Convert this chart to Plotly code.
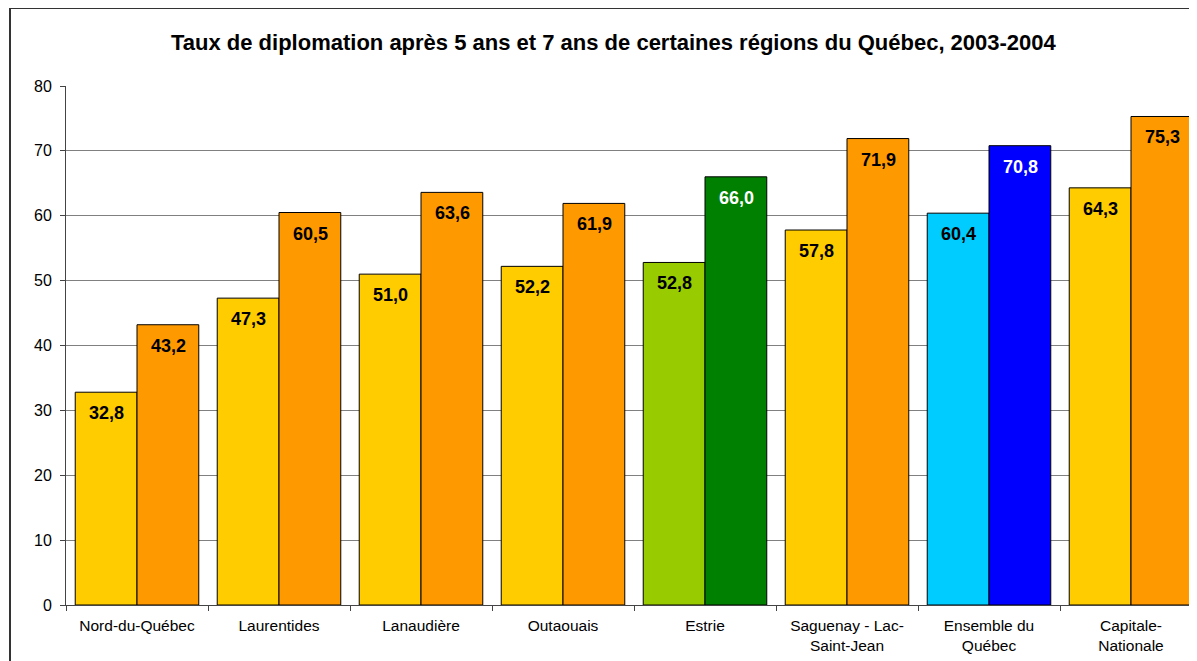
import plotly.graph_objects as go

categories = ["Nord-du-Québec", "Laurentides", "Lanaudière", "Outaouais", "Estrie",
              "Saguenay - Lac-<br>Saint-Jean", "Ensemble du<br>Québec", "Capitale-<br>Nationale"]
taux_5ans = [32.8, 47.3, 51.0, 52.2, 52.8, 57.8, 60.4, 64.3]
taux_7ans = [43.2, 60.5, 63.6, 61.9, 66.0, 71.9, 70.8, 75.3]
y_ticks = [0, 10, 20, 30, 40, 50, 60, 70, 80]

colors_5 = ["#FFCC00", "#FFCC00", "#FFCC00", "#FFCC00", "#99CC00", "#FFCC00", "#00CCFF", "#FFCC00"]
colors_7 = ["#FF9900", "#FF9900", "#FF9900", "#FF9900", "#008000", "#FF9900", "#0000FF", "#FF9900"]
text_col_5 = ["black"] * 8
text_col_7 = ["black", "black", "black", "black", "white", "black", "white", "black"]

def fmt(v):
    return f"{v:.1f}".replace(".", ",")

fig = go.Figure()
fig.add_trace(go.Bar(x=categories, y=taux_5ans, name="5 ans",
                     marker=dict(color=colors_5, line=dict(color="black", width=1))))
fig.add_trace(go.Bar(x=categories, y=taux_7ans, name="7 ans",
                     marker=dict(color=colors_7, line=dict(color="black", width=1))))

LABEL_FONT = dict(family="Arial", size=18, weight="bold")
annotations = []
for cat, v, c in zip(categories, taux_5ans, text_col_5):
    annotations.append(dict(x=cat, y=v, text=fmt(v), showarrow=False, xref="x", yref="y",
                            yanchor="top", xshift=-31, yshift=-9,
                            font=dict(LABEL_FONT, color=c)))
for cat, v, c in zip(categories, taux_7ans, text_col_7):
    annotations.append(dict(x=cat, y=v, text=fmt(v), showarrow=False, xref="x", yref="y",
                            yanchor="top", xshift=31, yshift=-9,
                            font=dict(LABEL_FONT, color=c)))

# page body has 8px margin -> figure coords = screen coords - 8
OFF = 8
W, H = 1197 - OFF, 661 - OFF
ml, mr, mt, mb = 66 - OFF, 0, 86 - OFF, H - (605 - OFF)
pw = W - ml - mr
ph = H - mt - mb

def px_x(p):
    return (p - OFF - ml) / pw

def px_y(p):
    return 1 - (p - OFF - mt) / ph

annotations.append(dict(x=px_x(614), y=px_y(43), xref="paper", yref="paper",
                        text="<b>Taux de diplomation après 5 ans et 7 ans de certaines régions du Québec, 2003-2004</b>",
                        showarrow=False, xanchor="center", yanchor="middle",
                        font=dict(family="Arial", size=22, color="black")))

shapes = [dict(type="rect", xref="paper", yref="paper",
               x0=px_x(10), x1=px_x(1230), y0=px_y(700), y1=px_y(8),
               line=dict(color="#333333", width=2), fillcolor="rgba(0,0,0,0)", layer="below")]

fig.update_layout(
    width=W, height=H,
    margin=dict(l=ml, r=mr, t=mt, b=mb, autoexpand=False),
    paper_bgcolor="white", plot_bgcolor="white",
    barmode="group", bargap=0.13, bargroupgap=0,
    showlegend=False,
    annotations=annotations,
    shapes=shapes,
    font=dict(family="Arial", size=15, color="black"),
)
fig.update_yaxes(range=[0, 80], tickvals=y_ticks, showgrid=True, gridcolor="#808080", gridwidth=1,
                 showline=True, linecolor="#444444", linewidth=1, ticks="outside", ticklen=5,
                 tickcolor="#444444", tickfont=dict(size=16), ticklabelstandoff=5, zeroline=False)
fig.update_xaxes(range=[-0.5, -0.5 + pw / 142], showline=True, linecolor="#444444", linewidth=1,
                 ticks="outside", tickson="boundaries", ticklen=5, tickcolor="#444444",
                 tickfont=dict(size=15.5), ticklabelstandoff=6, tickangle=0)

fig.write_html("out.html")
